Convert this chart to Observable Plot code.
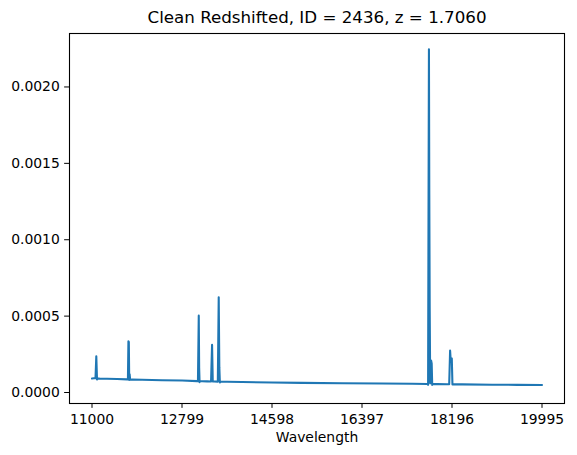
<!DOCTYPE html>
<html><head><meta charset="utf-8">
<script src="https://cdn.jsdelivr.net/npm/d3@7"></script>
<script src="https://cdn.jsdelivr.net/npm/@observablehq/plot@0.6"></script>
<style>body{margin:0;background:#fff}</style>
</head><body><div id="chart"></div>
<script>
const titleText = "Clean Redshifted, ID = 2436, z = 1.7060";
const xLabel = "Wavelength";
const xTicks = [11000, 12799, 14598, 16397, 18196, 19995];
const yTicks = [0, 0.0005, 0.001, 0.0015, 0.002];
const wavelength = [
  11000, 11040, 11070, 11086, 11094, 11100, 11112, 11150, 11300, 11500,
  11700, 11718, 11728, 11736, 11744, 11752, 11762, 11800, 12000, 12400,
  12800, 13100, 13118, 13134, 13142, 13150, 13160, 13200, 13300, 13380,
  13400, 13414, 13440, 13515, 13533, 13545, 13556, 13570, 13700, 14000,
  14598, 15200, 16000, 16800, 17400, 17700, 17718, 17735, 17742, 17750,
  17760, 17778, 17790, 17800, 17815, 17900, 18100, 18140, 18158, 18172,
  18192, 18205, 18220, 18400, 19000, 19500, 19995
];
const flux = [
  0.0000915, 0.0000935, 0.0000935, 0.000237, 0.000150, 0.0000850, 0.0000920, 0.0000910, 0.0000895, 0.0000880,
  0.0000860, 0.0000860, 0.000335, 0.000330, 0.0000820, 0.000120, 0.0000840, 0.0000845, 0.0000830, 0.0000800,
  0.0000780, 0.0000745, 0.0000745, 0.000503, 0.000160, 0.0000680, 0.0000740, 0.0000735, 0.0000730, 0.0000720,
  0.000312, 0.0000715, 0.0000715, 0.0000710, 0.000623, 0.000166, 0.0000660, 0.0000705, 0.0000700, 0.0000685,
  0.0000655, 0.0000630, 0.0000605, 0.0000585, 0.0000570, 0.0000560, 0.0000500, 0.002247, 0.001300, 0.000560,
  0.0000600, 0.000210, 0.000190, 0.0000500, 0.0000555, 0.0000550, 0.0000545, 0.0000540, 0.000275, 0.000200,
  0.000222, 0.0000520, 0.0000540, 0.0000530, 0.0000510, 0.0000500, 0.0000490
];
const data = wavelength.map((w, i) => ({w, f: flux[i]}));
const chart = Plot.plot({
  width: 577, height: 455,
  marginLeft: 69, marginRight: 13, marginTop: 33, marginBottom: 52,
  style: {fontFamily: "DejaVu Sans", fontSize: "13.9px", color: "black", background: "white"},
  x: {domain: [10550.25, 20444.75]},
  y: {domain: [-0.000072, 0.00235]},
  marks: [
    Plot.line(data, {x: "w", y: "f", stroke: "#1f77b4", strokeWidth: 2.08}),
    Plot.frame({stroke: "black", strokeWidth: 1.1}),
    Plot.axisX({ticks: xTicks, tickSize: 4.86, tickPadding: 6, tickFormat: d => String(d), label: null}),
    Plot.axisY({ticks: yTicks, tickSize: 4.86, tickPadding: 4.86, tickFormat: d => d.toFixed(4), label: null}),
    Plot.text([titleText], {frameAnchor: "top", lineAnchor: "middle", dy: -16, fontSize: 16.7, text: d => d}),
    Plot.text([xLabel], {frameAnchor: "bottom", lineAnchor: "middle", dy: 34, text: d => d})
  ]
});
document.getElementById("chart").appendChild(chart);
</script>
</body></html>
